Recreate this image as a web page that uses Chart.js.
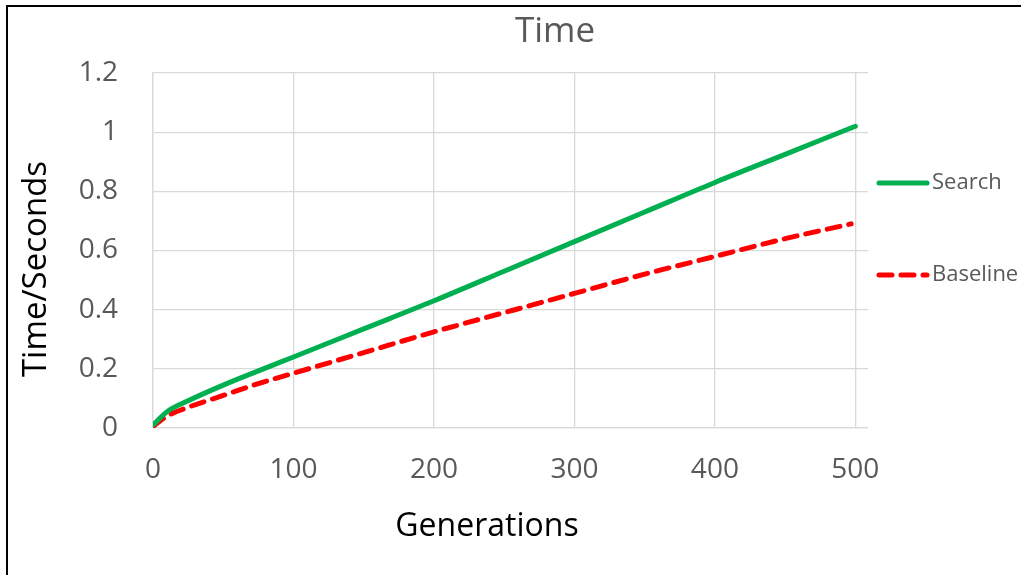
<!DOCTYPE html>
<html>
<head>
<meta charset="utf-8">
<script src="https://cdn.jsdelivr.net/npm/chart.js@4.4.1/dist/chart.umd.min.js"></script>
<style>
  html, body { margin: 0; padding: 0; background: #fff; }
  #wrap { position: relative; width: 1021px; height: 575px; }
  #frame {
    position: absolute; left: 6px; top: 5px; right: 0; bottom: 0;
    border-left: 2px solid #000; border-top: 2px solid #000;
    pointer-events: none;
  }
</style>
</head>
<body>
<div id="wrap">
  <canvas id="timeChart" width="1021" height="575"></canvas>
  <div id="frame"></div>
</div>
<script>
// generations sampled for each run
const searchGen = [0, 10, 25, 50, 75, 100, 150, 200, 250, 300, 350, 400, 450, 500];
const searchTime = [0.01, 0.055, 0.092, 0.145, 0.193, 0.24, 0.335, 0.43, 0.53, 0.63, 0.73, 0.83, 0.925, 1.02];

const baselineGen = [0, 10, 25, 50, 75, 100, 150, 200, 250, 300, 350, 400, 450, 497];
const baselineTime = [0.005, 0.04, 0.07, 0.11, 0.15, 0.185, 0.255, 0.325, 0.39, 0.455, 0.52, 0.58, 0.64, 0.69];

const xTicks = [0, 100, 200, 300, 400, 500];
const yTicks = [0, 0.2, 0.4, 0.6, 0.8, 1, 1.2];

const FONT = "'Open Sans', 'DejaVu Sans', sans-serif";
const GREY_TEXT = '#595959';
const GRID = '#d9d9d9';

const toPoints = (xs, ys) => xs.map((x, i) => ({ x: x, y: ys[i] }));

// chart title, axis titles and the legend on the right
const decorations = {
  id: 'decorations',
  afterDraw(chart) {
    const { ctx, chartArea } = chart;
    ctx.save();
    ctx.textAlign = 'center';
    ctx.textBaseline = 'middle';

    ctx.fillStyle = GREY_TEXT;
    ctx.font = "35px " + FONT;
    ctx.fillText('Time', chartArea.right - 313, chartArea.top - 41);

    ctx.fillStyle = '#000';
    ctx.font = "32px " + FONT;
    ctx.fillText('Generations', chartArea.left + 334, chartArea.bottom + 99);

    ctx.save();
    ctx.translate(chartArea.left - 116, chartArea.top + 196);
    ctx.rotate(-Math.PI / 2);
    ctx.font = "33px " + FONT;
    ctx.fillText('Time/Seconds', 0, 0);
    ctx.restore();

    const x0 = chartArea.right + 9;
    const lineLen = 52;
    chart.data.datasets.forEach((ds, i) => {
      const y = chartArea.top + 110 + i * 92;
      ctx.strokeStyle = ds.borderColor;
      ctx.lineWidth = ds.borderWidth;
      ctx.lineCap = 'round';
      ctx.setLineDash(ds.borderDash || []);
      ctx.beginPath();
      ctx.moveTo(x0 + 2, y);
      ctx.lineTo(x0 + lineLen - 2, y);
      ctx.stroke();
      ctx.setLineDash([]);
      ctx.fillStyle = GREY_TEXT;
      ctx.font = "22px " + FONT;
      ctx.textAlign = 'left';
      ctx.fillText(ds.label, x0 + lineLen + 3, y);
    });
    ctx.restore();
  }
};

new Chart(document.getElementById('timeChart'), {
  type: 'line',
  data: {
    datasets: [
      {
        label: 'Search',
        data: toPoints(searchGen, searchTime),
        borderColor: '#00b050',
        borderWidth: 5,
        borderCapStyle: 'round',
        pointRadius: 0,
        cubicInterpolationMode: 'monotone'
      },
      {
        label: 'Baseline',
        data: toPoints(baselineGen, baselineTime),
        borderColor: '#ff0000',
        borderWidth: 5,
        borderDash: [13, 9],
        borderCapStyle: 'round',
        pointRadius: 0,
        cubicInterpolationMode: 'monotone'
      }
    ]
  },
  options: {
    responsive: false,
    animation: false,
    layout: { padding: { left: 0, right: 153, top: 73, bottom: 0 } },
    plugins: {
      legend: { display: false },
      tooltip: { enabled: false },
      title: { display: false }
    },
    scales: {
      x: {
        type: 'linear',
        min: 0,
        max: 509,
        afterBuildTicks: (scale) => { scale.ticks = xTicks.map(v => ({ value: v })); },
        afterFit: (scale) => { scale.height = 147; },
        grid: { color: GRID, lineWidth: 1.3, drawTicks: false },
        border: { color: GRID, width: 1.3 },
        ticks: {
          color: GREY_TEXT,
          font: { family: FONT, size: 28 },
          padding: 25,
          maxRotation: 0
        }
      },
      y: {
        min: 0,
        max: 1.2,
        afterBuildTicks: (scale) => { scale.ticks = yTicks.map(v => ({ value: v })); },
        afterFit: (scale) => { scale.width = 153; },
        grid: { color: GRID, lineWidth: 1.3, drawTicks: false },
        border: { color: GRID, width: 1.3 },
        ticks: {
          color: GREY_TEXT,
          font: { family: FONT, size: 28 },
          padding: 35,
          callback: (v) => String(Math.round(v * 10) / 10)
        }
      }
    }
  },
  plugins: [decorations]
});
</script>
</body>
</html>
